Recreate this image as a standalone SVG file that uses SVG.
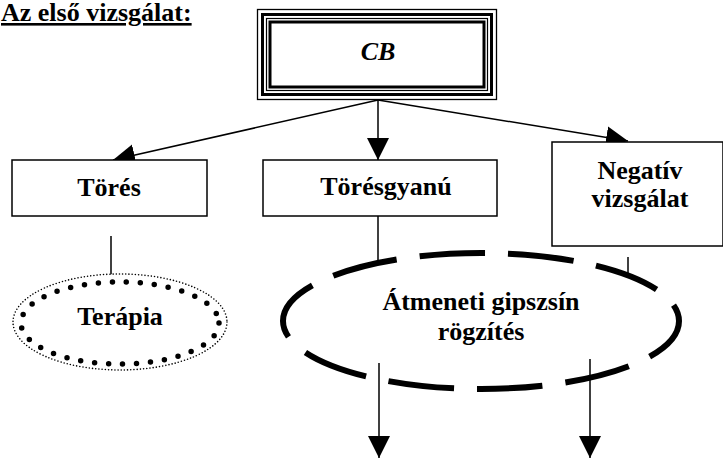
<svg xmlns="http://www.w3.org/2000/svg" width="723" height="461" viewBox="0 0 723 461">
<style>
text{font-family:"Liberation Serif","Times New Roman",serif;font-weight:bold;font-size:26px;fill:#000;text-anchor:middle}
.box{fill:#fff;stroke:#000;stroke-width:1.5}
.ln{stroke:#000;stroke-width:1.5;fill:none}
</style>
<defs>
<marker id="ah" markerUnits="userSpaceOnUse" markerWidth="24" markerHeight="24" refX="22" refY="12" orient="auto" viewBox="0 0 24 24">
<path d="M0,1 L22,12 L0,23 Z" fill="#000"/>
</marker>
</defs>
<rect width="723" height="461" fill="#fff"/>
<text x="1" y="21" style="text-anchor:start;text-decoration:underline">Az első vizsgálat:</text>
<g id="connectors">
<line class="ln" x1="378" y1="100" x2="113" y2="160" marker-end="url(#ah)"/>
<line class="ln" x1="378" y1="100" x2="378" y2="160" marker-end="url(#ah)"/>
<line class="ln" x1="378" y1="100" x2="628" y2="141" marker-end="url(#ah)"/>
<line class="ln" x1="111" y1="236" x2="111" y2="275"/>
<line class="ln" x1="378" y1="216" x2="378" y2="262"/>
<line class="ln" x1="628" y1="257" x2="628" y2="274"/>
<line class="ln" x1="379" y1="363" x2="379" y2="458" marker-end="url(#ah)"/>
<line class="ln" x1="590" y1="359" x2="590" y2="458" marker-end="url(#ah)"/>
</g>
<g id="cb">
<rect x="257.5" y="9.5" width="239" height="90" fill="#fff" stroke="#000" stroke-width="1.3"/>
<rect x="262.5" y="14.5" width="229" height="80" fill="none" stroke="#000" stroke-width="3"/>
<rect x="266.5" y="18.5" width="221" height="72" fill="none" stroke="#000" stroke-width="1.2"/>
<rect x="270" y="22" width="214" height="65" fill="none" stroke="#000" stroke-width="3"/>
<text x="378" y="60" style="font-style:italic">CB</text>
</g>
<g id="tores">
<rect class="box" x="12" y="160" width="195" height="56"/>
<text x="109" y="196">Törés</text>
</g>
<g id="toresgyanu">
<rect class="box" x="263" y="160" width="234" height="56"/>
<text x="386" y="195">Törésgyanú</text>
</g>
<g id="negativ">
<rect class="box" x="552" y="142" width="171" height="104"/>
<text x="640" y="179">Negatív</text>
<text x="640" y="207">vizsgálat</text>
</g>
<g id="terapia">
<ellipse cx="120" cy="322" rx="107" ry="48" fill="#fff" stroke="#000" stroke-width="1.6" stroke-dasharray="0 3.2" stroke-linecap="round"/>
<ellipse cx="120" cy="323" rx="99" ry="41" fill="none" stroke="#000" stroke-width="5.5" stroke-dasharray="0 14" stroke-linecap="round"/>
<text x="120" y="325">Terápia</text>
</g>
<g id="atmeneti">
<path d="M679 321 A198 68 0 0 1 283 321 A198 68 0 0 1 679 321 Z" fill="none" stroke="#000" stroke-width="6" stroke-dasharray="65.6 23" stroke-dashoffset="17.2"/>
<text x="481" y="310">Átmeneti gipszsín</text>
<text x="481" y="340">rögzítés</text>
</g>
</svg>
